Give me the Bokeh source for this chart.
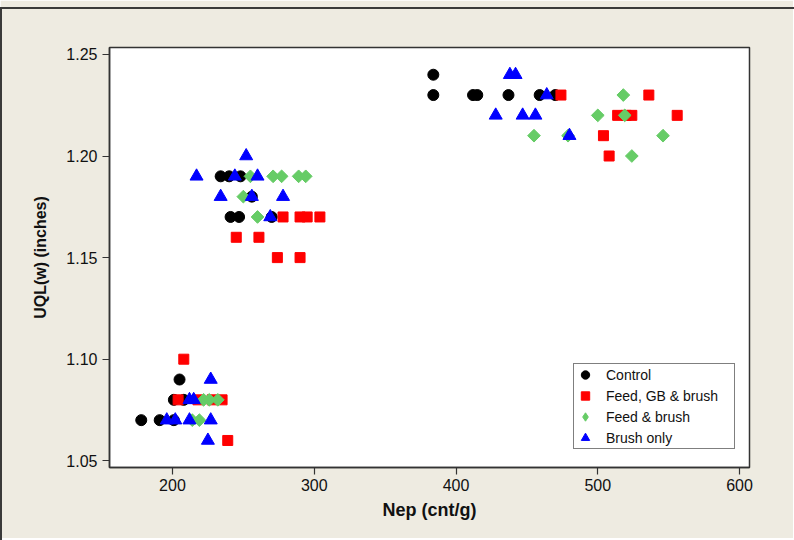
import numpy as np
from bokeh.plotting import figure
from bokeh.models import Range1d, Legend, LegendItem, FixedTicker, NumeralTickFormatter
from bokeh.embed import file_html
from bokeh.resources import INLINE

# ---- data ----
control_x = [205, 201, 208, 178, 191, 201,
             234, 240, 248, 256, 241, 247, 270,
             384, 384, 412, 415, 437, 459, 470]
control_y = [1.09, 1.08, 1.08, 1.07, 1.07, 1.07,
             1.19, 1.19, 1.19, 1.18, 1.17, 1.17, 1.17,
             1.24, 1.23, 1.23, 1.23, 1.23, 1.23, 1.23]

gb_x = [208, 204, 218, 228, 235, 239,
        278, 290, 295, 304, 245, 261, 274, 290,
        474, 536, 514, 520, 524, 556, 504, 508]
gb_y = [1.10, 1.08, 1.08, 1.08, 1.08, 1.06,
        1.17, 1.17, 1.17, 1.17, 1.16, 1.16, 1.15, 1.15,
        1.23, 1.23, 1.22, 1.22, 1.22, 1.22, 1.21, 1.20]

fb_x = [222, 226, 232, 214, 219,
        255, 271, 277, 289, 294, 250, 260,
        518, 500, 519, 455, 479, 546, 524]
fb_y = [1.08, 1.08, 1.08, 1.07, 1.07,
        1.19, 1.19, 1.19, 1.19, 1.19, 1.18, 1.17,
        1.23, 1.22, 1.22, 1.21, 1.21, 1.21, 1.20]

br_x = [227, 212, 215, 196, 202, 212, 227, 225,
        252, 217, 244, 260, 234, 256, 278, 269,
        438, 442, 464, 428, 447, 456, 480]
br_y = [1.09, 1.08, 1.08, 1.07, 1.07, 1.07, 1.07, 1.06,
        1.20, 1.19, 1.19, 1.19, 1.18, 1.18, 1.18, 1.17,
        1.24, 1.24, 1.23, 1.22, 1.22, 1.22, 1.21]

series_names = ["Control", "Feed, GB & brush", "Feed & brush", "Brush only"]
x_ticks = [200, 300, 400, 500, 600]
y_ticks = [1.05, 1.10, 1.15, 1.20, 1.25]

BG = "#EEEBE1"
FONT = "Liberation Sans"

p = figure(frame_width=640, frame_height=420,
           min_border_left=109, min_border_right=44,
           min_border_top=47, min_border_bottom=71,
           x_range=Range1d(155.6, 607), y_range=Range1d(1.0467, 1.2534),
           output_backend="svg", toolbar_location=None)

p.border_fill_color = BG
p.background_fill_color = "white"
p.outline_line_color = "#333333"
p.outline_line_width = 1.5
p.grid.visible = False

for ax in (p.xaxis[0], p.yaxis[0]):
    ax.axis_line_color = "#333333"
    ax.axis_line_width = 1.5
    ax.major_tick_line_color = "#333333"
    ax.major_tick_line_width = 1.2
    ax.major_tick_out = 7
    ax.major_tick_in = 0
    ax.minor_tick_line_color = None
    ax.major_label_text_font = FONT
    ax.major_label_text_font_size = "16px"
    ax.major_label_text_color = "#111111"
    ax.axis_label_text_font = FONT
    ax.axis_label_text_font_style = "bold"
    ax.axis_label_text_color = "#111111"

p.xaxis.ticker = FixedTicker(ticks=x_ticks)
p.yaxis.ticker = FixedTicker(ticks=y_ticks)
p.yaxis.formatter = NumeralTickFormatter(format="0.00")
p.xaxis.axis_label = "Nep (cnt/g)"
p.yaxis.axis_label = "UQL(w) (inches)"
p.xaxis.axis_label_text_font_size = "18px"
p.yaxis.axis_label_text_font_size = "16px"
p.xaxis.major_label_standoff = 4
p.yaxis.major_label_standoff = 5
p.xaxis.axis_label_standoff = 6
p.yaxis.axis_label_standoff = 14

r1 = p.scatter(control_x, control_y, marker="circle", size=11, color="black")
r2 = p.scatter(gb_x, gb_y, marker="square", size=10, color="#FF0000")
r3 = p.scatter(fb_x, fb_y, marker="square", size=9, angle=np.pi / 4, color="#66CC66")
r4 = p.scatter(br_x, br_y, marker="triangle", size=13, color="#0000FF")
# legend-only glyph for the diamond key (NaN point, never drawn)
r3_key = p.scatter([np.nan], [np.nan], marker="diamond", size=15, color="#66CC66")

legend = Legend(items=[LegendItem(label=n, renderers=[r]) for n, r in
                       zip(series_names, [r1, r2, r3_key, r4])],
                location=(464, 18))
legend.label_text_font = FONT
legend.label_text_font_size = "14px"
legend.label_text_color = "#111111"
legend.glyph_width = 22
legend.glyph_height = 21
legend.label_height = 21
legend.label_width = 128
legend.spacing = 0
legend.padding = 0
legend.margin = 0
legend.label_standoff = 10
legend.border_line_color = "black"
legend.border_line_width = 1
legend.background_fill_color = "white"
p.add_layout(legend)

html = file_html(p, INLINE)
frame_lines = ('<div style="position:fixed;left:0;top:7px;width:794px;height:2px;background:#3a3a3a"></div>'
               '<div style="position:fixed;left:0;top:7px;width:2px;height:533px;background:#3a3a3a"></div>')
html = html.replace("<body>", '<body style="margin:0;background:%s">' % BG, 1)
html = html.replace("</body>", frame_lines + "</body>", 1)
open("out.html", "w").write(html)
